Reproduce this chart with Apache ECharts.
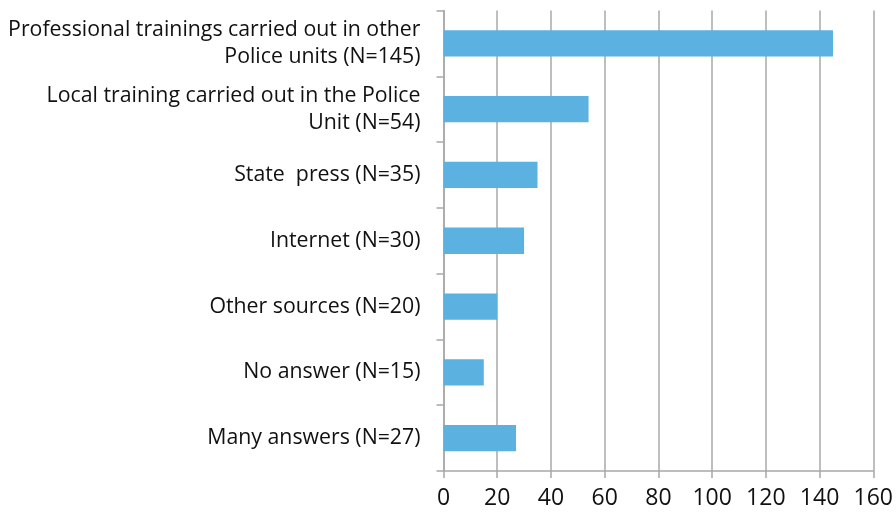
<!DOCTYPE html>
<html>
<head>
<meta charset="utf-8">
<script src="https://cdn.jsdelivr.net/npm/echarts@6/dist/echarts.min.js"></script>
<style>html,body{margin:0;padding:0;background:#fff}#c{width:896px;height:512px}</style>
</head>
<body>
<div id="c"></div>
<script>
const categories = [
  "Professional trainings carried out in other\nPolice units (N=145)",
  "Local training carried out in the Police\nUnit (N=54)",
  "State  press (N=35)",
  "Internet (N=30)",
  "Other sources (N=20)",
  "No answer (N=15)",
  "Many answers (N=27)"
];
const values = [145, 54, 35, 30, 20, 15, 27];
const xTicks = { min: 0, max: 160, interval: 20 };

const chart = echarts.init(document.getElementById('c'), null, { renderer: 'canvas' });
chart.setOption({
  animation: false,
  grid: { left: 443.5, right: 21.3, top: 10.5, bottom: 41, containLabel: false },
  xAxis: {
    type: 'value', min: xTicks.min, max: xTicks.max, interval: xTicks.interval,
    axisLine: { show: true, lineStyle: { color: '#a8a8a8', width: 1.5 } },
    axisTick: { show: true, length: 7, lineStyle: { color: '#a8a8a8', width: 1.5 } },
    splitLine: { show: true, lineStyle: { color: '#a8a8a8', width: 1.5 } },
    axisLabel: { color: '#111', fontFamily: 'Open Sans', fontSize: 23, margin: 16 }
  },
  yAxis: {
    type: 'category', inverse: true, data: categories,
    axisLine: { show: true, lineStyle: { color: '#a8a8a8', width: 1.5 } },
    axisTick: { show: true, length: 7, lineStyle: { color: '#a8a8a8', width: 1.5 } },
    axisLabel: { color: '#111', fontFamily: 'Open Sans', fontSize: 21.3, lineHeight: 27, margin: 23, align: 'right', padding: [4, 0, 0, 0] }
  },
  series: [{
    type: 'bar', data: values, barWidth: '40%',
    itemStyle: { color: '#5BB1E0' }
  }]
});
</script>
</body>
</html>
